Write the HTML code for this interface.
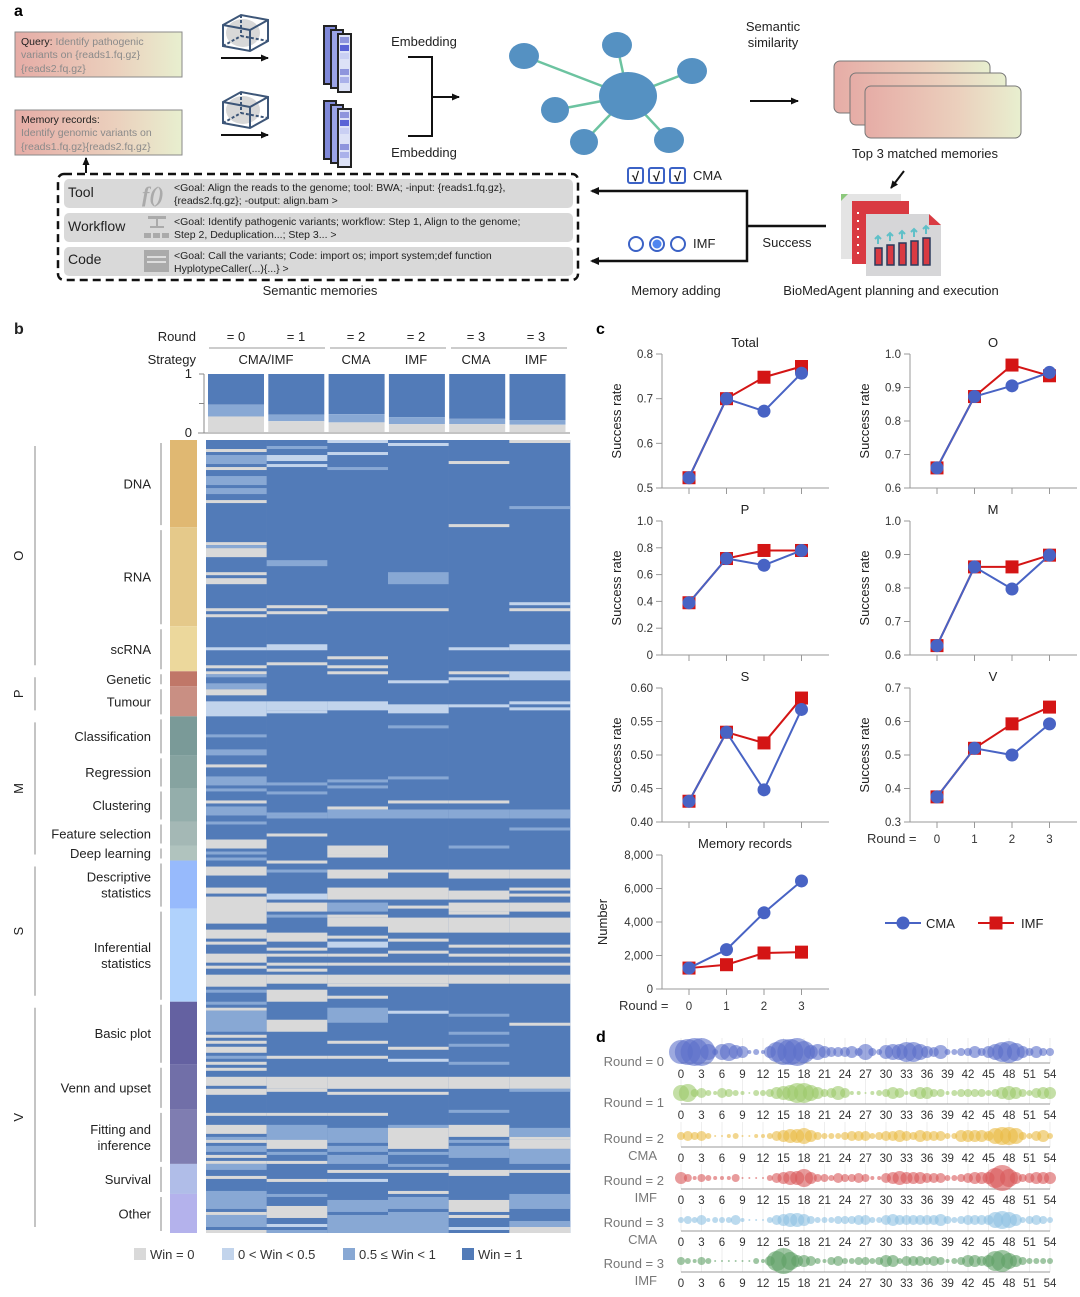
<!DOCTYPE html>
<html><head><meta charset="utf-8">
<style>
html,body{margin:0;padding:0;background:#fff;}
svg{display:block;font-family:"Liberation Sans",Arial,sans-serif;}
</style></head>
<body>
<svg id="fig" width="1080" height="1297" viewBox="0 0 1080 1297" xmlns="http://www.w3.org/2000/svg">
<defs>
<linearGradient id="pinkYellow" x1="0" y1="0" x2="1" y2="0"><stop offset="0" stop-color="#e6aca6"/><stop offset="0.6" stop-color="#ebd0bd"/><stop offset="1" stop-color="#e8efcf"/></linearGradient>
<marker id="ah" markerWidth="8" markerHeight="8" refX="7" refY="4" orient="auto" markerUnits="userSpaceOnUse"><path d="M0,0.5 L8,4 L0,7.5 z" fill="#111"/></marker>
</defs>

<!-- ================= PANEL A ================= -->
<g>
<text x="14" y="16" font-size="16" font-weight="bold">a</text>
<g>
<rect x="15" y="32" width="167" height="45" fill="url(#pinkYellow)" stroke="#8a8a8a" stroke-width="1"/>
<text x="21" y="45" font-size="10.5" fill="#333"><tspan fill="#222">Query: </tspan><tspan fill="#8a8a8a">Identify pathogenic</tspan></text>
<text x="21" y="58" font-size="10.5" fill="#8a8a8a">variants on {reads1.fq.gz}</text>
<text x="21" y="72" font-size="10.5" fill="#8a8a8a">{reads2.fq.gz}</text>
</g>
<g>
<rect x="15" y="110" width="167" height="45" fill="url(#pinkYellow)" stroke="#8a8a8a" stroke-width="1"/>
<text x="21" y="123" font-size="10.5" fill="#222">Memory records:</text>
<text x="21" y="136" font-size="10.5" fill="#8a8a8a">Identify genomic variants on</text>
<text x="21" y="150" font-size="10.5" fill="#8a8a8a">{reads1.fq.gz}{reads2.fq.gz}</text>
</g>
<line x1="86" y1="173" x2="86" y2="158" stroke="#111" stroke-width="2" marker-end="url(#ah)"/>
<!-- cubes -->
<g stroke="#3d5678" stroke-width="2" fill="none">
<ellipse cx="243" cy="33" rx="17" ry="14" fill="#d8d8d8" stroke="none"/>
<polygon points="223,25 241,15 268,20 268,41 250,51 223,46"/>
<line x1="223" y1="25" x2="250" y2="30"/><line x1="250" y1="30" x2="268" y2="20"/><line x1="250" y1="30" x2="250" y2="51"/>
<line x1="241" y1="15" x2="241" y2="36" stroke-dasharray="3 2"/><line x1="223" y1="46" x2="241" y2="36" stroke-dasharray="3 2"/><line x1="241" y1="36" x2="268" y2="41" stroke-dasharray="3 2"/>
</g>
<line x1="221" y1="58" x2="268" y2="58" stroke="#111" stroke-width="2" marker-end="url(#ah)"/>
<g stroke="#3d5678" stroke-width="2" fill="none">
<ellipse cx="243" cy="110" rx="17" ry="14" fill="#d8d8d8" stroke="none"/>
<polygon points="223,102 241,92 268,97 268,118 250,128 223,123"/>
<line x1="223" y1="102" x2="250" y2="107"/><line x1="250" y1="107" x2="268" y2="97"/><line x1="250" y1="107" x2="250" y2="128"/>
<line x1="241" y1="92" x2="241" y2="113" stroke-dasharray="3 2"/><line x1="223" y1="123" x2="241" y2="113" stroke-dasharray="3 2"/><line x1="241" y1="113" x2="268" y2="118" stroke-dasharray="3 2"/>
</g>
<line x1="221" y1="135" x2="268" y2="135" stroke="#111" stroke-width="2" marker-end="url(#ah)"/>
<!-- vector stacks -->
<g>
<rect x="324" y="26" width="12" height="58" fill="#7f88d8" stroke="#222" stroke-width="2"/>
<rect x="331" y="30" width="12" height="58" fill="#9aa3e6" stroke="#222" stroke-width="2"/>
<rect x="338" y="34" width="13" height="58" fill="#dde2f7" stroke="#222" stroke-width="2"/>
<rect x="340" y="37" width="9" height="6" fill="#8e95dd"/><rect x="340" y="45" width="9" height="6" fill="#5a63d6"/><rect x="340" y="53" width="9" height="6" fill="#c9cff3"/><rect x="340" y="69" width="9" height="6" fill="#8e95dd"/><rect x="340" y="77" width="9" height="6" fill="#aab1ea"/>
</g>
<g>
<rect x="324" y="101" width="12" height="58" fill="#7f88d8" stroke="#222" stroke-width="2"/>
<rect x="331" y="105" width="12" height="58" fill="#9aa3e6" stroke="#222" stroke-width="2"/>
<rect x="338" y="109" width="13" height="58" fill="#dde2f7" stroke="#222" stroke-width="2"/>
<rect x="340" y="112" width="9" height="6" fill="#8e95dd"/><rect x="340" y="120" width="9" height="6" fill="#5a63d6"/><rect x="340" y="128" width="9" height="6" fill="#c9cff3"/><rect x="340" y="144" width="9" height="6" fill="#8e95dd"/><rect x="340" y="152" width="9" height="6" fill="#aab1ea"/>
</g>
<text x="424" y="46" font-size="13" text-anchor="middle" fill="#222">Embedding</text>
<text x="424" y="157" font-size="13" text-anchor="middle" fill="#222">Embedding</text>
<polyline points="408,57 432,57 432,136 408,136" fill="none" stroke="#111" stroke-width="2"/>
<line x1="432" y1="97" x2="459" y2="97" stroke="#111" stroke-width="2" marker-end="url(#ah)"/>
<!-- network -->
<g>
<g stroke="#6cc3a0" stroke-width="2.5">
<line x1="628" y1="96" x2="524" y2="56"/><line x1="628" y1="96" x2="555" y2="110"/><line x1="628" y1="96" x2="584" y2="142"/>
<line x1="628" y1="96" x2="617" y2="45"/><line x1="628" y1="96" x2="692" y2="71"/><line x1="628" y1="96" x2="669" y2="140"/>
</g>
<g fill="#5591c2">
<ellipse cx="628" cy="96" rx="29" ry="24"/>
<ellipse cx="524" cy="56" rx="15" ry="13"/><ellipse cx="555" cy="110" rx="14" ry="13"/><ellipse cx="584" cy="142" rx="14" ry="13"/>
<ellipse cx="617" cy="45" rx="15" ry="13"/><ellipse cx="692" cy="71" rx="15" ry="13"/><ellipse cx="669" cy="140" rx="15" ry="13"/>
</g>
</g>
<text x="773" y="31" font-size="13" text-anchor="middle" fill="#222"><tspan x="773">Semantic</tspan><tspan x="773" dy="16">similarity</tspan></text>
<line x1="750" y1="101" x2="798" y2="101" stroke="#111" stroke-width="2" marker-end="url(#ah)"/>
<g stroke="#777" stroke-width="1">
<rect x="834" y="61" width="156" height="52" rx="6" fill="url(#pinkYellow)"/>
<rect x="850" y="73" width="156" height="52" rx="6" fill="url(#pinkYellow)"/>
<rect x="865" y="86" width="156" height="52" rx="6" fill="url(#pinkYellow)"/>
</g>
<text x="925" y="158" font-size="13" text-anchor="middle" fill="#222">Top 3 matched memories</text>
<line x1="904" y1="171" x2="891" y2="188" stroke="#111" stroke-width="2" marker-end="url(#ah)"/>
<g>
<rect x="841" y="194" width="60" height="65" fill="#e4e4e4"/>
<polygon points="841,194 848,194 841,201" fill="#8cc87c"/>
<rect x="852" y="201" width="57" height="63" fill="#d93a42"/>
<g fill="#fff"><rect x="857" y="212" width="2" height="2"/><rect x="857" y="220" width="2" height="2"/><rect x="857" y="228" width="2" height="2"/><rect x="857" y="236" width="2" height="2"/><rect x="857" y="244" width="2" height="2"/><rect x="857" y="252" width="2" height="2"/></g>
<polygon points="866,214 929,214 941,225 941,276 866,276" fill="#d6d6d8"/>
<polygon points="929,214 941,225 929,225" fill="#d93a42"/>
<g fill="#d93a42" stroke="#2c3a5c" stroke-width="1.5"><rect x="875" y="248" width="7" height="17"/><rect x="887" y="245" width="7" height="20"/><rect x="899" y="243" width="7" height="22"/><rect x="911" y="241" width="7" height="24"/><rect x="923" y="238" width="7" height="27"/></g>
<g stroke="#5fc0c8" stroke-width="2" fill="none"><path d="M878,244 v-8 m-3,3 l3,-3 l3,3"/><path d="M890,241 v-8 m-3,3 l3,-3 l3,3"/><path d="M902,239 v-8 m-3,3 l3,-3 l3,3"/><path d="M914,237 v-8 m-3,3 l3,-3 l3,3"/><path d="M926,234 v-8 m-3,3 l3,-3 l3,3"/></g>
</g>
<text x="787" y="247" font-size="13" text-anchor="middle" fill="#222">Success</text>
<g fill="none" stroke="#111" stroke-width="2.5">
<line x1="826" y1="226" x2="747" y2="226"/>
<polyline points="592,191 747,191 747,261 592,261"/>
</g>
<path d="M590,191 l9,-4 v8 z" fill="#111"/>
<path d="M590,261 l9,-4 v8 z" fill="#111"/>
<g stroke="#3b62c6" stroke-width="2" fill="#fff">
<rect x="628" y="168" width="15" height="15" rx="2"/><rect x="649" y="168" width="15" height="15" rx="2"/><rect x="670" y="168" width="15" height="15" rx="2"/>
</g>
<g font-size="13" font-weight="bold" fill="#111" text-anchor="middle"><text x="635.5" y="181">√</text><text x="656.5" y="181">√</text><text x="677.5" y="181">√</text></g>
<text x="693" y="180" font-size="13" fill="#222">CMA</text>
<g stroke="#3b62c6" stroke-width="2" fill="#fff">
<circle cx="636" cy="244" r="7"/><circle cx="657" cy="244" r="7"/><circle cx="678" cy="244" r="7"/>
</g>
<circle cx="657" cy="244" r="4.5" fill="#4f86f0"/>
<text x="693" y="248" font-size="13" fill="#222">IMF</text>
<text x="676" y="295" font-size="13" text-anchor="middle" fill="#222">Memory adding</text>
<text x="891" y="295" font-size="13" text-anchor="middle" fill="#222">BioMedAgent planning and execution</text>
<!-- semantic memories -->
<rect x="58" y="174" width="520" height="106" rx="6" fill="none" stroke="#111" stroke-width="2.5" stroke-dasharray="8 5"/>
<g>
<rect x="64" y="179" width="509" height="29" rx="5" fill="#d9d9d9"/>
<text x="68" y="197" font-size="14" fill="#222">Tool</text>
<text x="142" y="202" font-size="22" font-style="italic" font-weight="bold" fill="#aaa" font-family="Liberation Serif,serif">f()</text>
<text x="174" y="191" font-size="10.5" fill="#222">&lt;Goal: Align the reads to the genome; tool: BWA;  -input: {reads1.fq.gz},</text>
<text x="174" y="204" font-size="10.5" fill="#222">{reads2.fq.gz}; -output: align.bam &gt;</text>
</g>
<g>
<rect x="64" y="213" width="509" height="29" rx="5" fill="#d9d9d9"/>
<text x="68" y="231" font-size="14" fill="#222">Workflow</text>
<g fill="#aaa"><rect x="148" y="216" width="18" height="3"/><rect x="156" y="219" width="2" height="8"/><rect x="150" y="226" width="14" height="2"/><rect x="144" y="233" width="7" height="5"/><rect x="153" y="233" width="7" height="5"/><rect x="162" y="233" width="7" height="5"/></g>
<text x="174" y="225" font-size="10.5" fill="#222">&lt;Goal: Identify pathogenic variants; workflow: Step 1, Align to the genome;</text>
<text x="174" y="238" font-size="10.5" fill="#222">Step 2, Deduplication...; Step 3... &gt;</text>
</g>
<g>
<rect x="64" y="247" width="509" height="29" rx="5" fill="#d9d9d9"/>
<text x="68" y="264" font-size="14" fill="#222">Code</text>
<rect x="144" y="250" width="25" height="22" fill="#aaa"/><rect x="147" y="256" width="19" height="2" fill="#ddd"/><rect x="147" y="261" width="19" height="2" fill="#ddd"/>
<text x="174" y="259" font-size="10.5" fill="#222">&lt;Goal: Call the variants; Code: import os; import system;def function</text>
<text x="174" y="272" font-size="10.5" fill="#222">HyplotypeCaller(...){...} &gt;</text>
</g>
<text x="320" y="295" font-size="13" text-anchor="middle" fill="#222">Semantic memories</text>
</g>

<!-- ================= PANEL B static labels ================= -->
<g font-size="13" fill="#222">
<text x="14" y="334" font-size="16" font-weight="bold">b</text>
<text x="196" y="341" text-anchor="end">Round</text>
<text x="196" y="364" text-anchor="end">Strategy</text>
<g text-anchor="middle">
<text x="236" y="341">= 0</text><text x="296" y="341">= 1</text><text x="356" y="341">= 2</text><text x="416" y="341">= 2</text><text x="476" y="341">= 3</text><text x="536" y="341">= 3</text>
<text x="266" y="364">CMA/IMF</text><text x="356" y="364">CMA</text><text x="416" y="364">IMF</text><text x="476" y="364">CMA</text><text x="536" y="364">IMF</text>
</g>
<g stroke="#999" stroke-width="1"><line x1="209" y1="348" x2="325" y2="348"/><line x1="330" y1="348" x2="446" y2="348"/><line x1="451" y1="348" x2="567" y2="348"/></g>
<g id="bars"></g>
<g id="heat"></g>
<g id="cats"></g>
<g id="blegend"></g>
</g>

<!-- ================= PANEL C ================= -->
<text x="596" y="334" font-size="16" font-weight="bold">c</text>
<g id="linecharts"></g>
<g>
<line x1="885" y1="923" x2="921" y2="923" stroke="#4863c4" stroke-width="2"/><circle cx="903" cy="923" r="6.5" fill="#4863c4"/>
<text x="926" y="928" font-size="13" fill="#222">CMA</text>
<line x1="978" y1="923" x2="1014" y2="923" stroke="#d41515" stroke-width="2"/><rect x="989.5" y="916.5" width="13" height="13" fill="#d41515"/>
<text x="1021" y="928" font-size="13" fill="#222">IMF</text>
</g>

<!-- ================= PANEL D ================= -->
<text x="596" y="1042" font-size="16" font-weight="bold">d</text>
<g id="bubbles"></g>
</svg>

<script>
// ---------- Panel b data ----------
const strategies = ["R0 CMA/IMF","R1 CMA/IMF","R2 CMA","R2 IMF","R3 CMA","R3 IMF"];
const fracWin0 = [0.28,0.20,0.18,0.15,0.15,0.14];
const fracWinMid = [0.20,0.11,0.14,0.12,0.09,0.08];
const categories = ["DNA","RNA","scRNA","Genetic","Tumour","Classification","Regression","Clustering","Feature selection","Deep learning","Descriptive statistics","Inferential statistics","Basic plot","Venn and upset","Fitting and inference","Survival","Other"];
const categoryRows = [29,33,15,5,10,13,11,11,8,5,16,31,21,15,18,10,13];
const nRows = 264;
// exceptions per column: [startRow, endRow, level] (0: win=0, 1: 0<win<0.5, 2: 0.5<=win<1); default level 3 (win=1)
const heatCol0 = [[3,3,0],[5,7,2],[9,9,0],[12,14,2],[16,17,2],[20,20,0],[34,34,0],[35,35,2],[36,38,0],[44,44,0],[46,47,0],[56,56,0],[58,58,0],[69,69,1],[75,75,0],[77,77,0],[78,78,2],[81,82,2],[83,84,0],[87,91,1],[98,98,2],[103,104,2],[108,108,0],[112,114,2],[116,116,2],[120,120,0],[122,124,2],[127,127,2],[133,135,0],[137,137,2],[139,139,2],[142,144,0],[149,150,0],[152,160,0],[163,165,0],[167,167,0],[171,173,0],[175,175,0],[178,181,0],[183,183,2],[187,187,2],[189,189,0],[190,196,2],[198,198,0],[200,200,0],[202,203,0],[205,205,2],[207,207,0],[209,209,0],[212,214,0],[216,217,0],[224,224,0],[228,230,0],[232,232,2],[233,233,0],[235,236,2],[238,238,0],[240,240,0],[241,242,2],[245,245,0],[250,255,2],[257,257,0],[258,261,2],[263,263,0]];
const heatCol1 = [[2,2,2],[5,6,1],[8,8,1],[40,41,2],[55,55,0],[57,57,0],[68,69,1],[74,74,0],[87,89,1],[90,90,1],[114,114,2],[117,117,2],[124,124,2],[125,125,2],[131,131,0],[140,140,0],[143,143,2],[151,152,1],[154,156,0],[158,158,2],[164,166,0],[169,169,0],[171,171,0],[174,174,0],[176,176,0],[178,180,0],[183,186,0],[193,196,0],[205,205,0],[212,215,0],[216,216,0],[224,224,0],[228,233,2],[233,235,0],[237,237,2],[240,240,0],[246,246,0],[251,251,2],[255,258,0],[261,261,1],[263,263,2]];
const heatCol2 = [[0,0,1],[4,4,1],[9,9,2],[56,56,0],[72,72,0],[75,75,0],[77,77,0],[87,89,1],[113,113,2],[115,115,2],[122,122,0],[123,125,2],[135,137,0],[138,138,0],[143,145,0],[149,152,0],[154,156,2],[158,158,0],[159,161,0],[165,165,0],[167,168,1],[171,171,0],[174,174,0],[178,180,0],[181,181,0],[185,185,0],[189,193,2],[200,200,0],[205,205,0],[212,215,0],[217,217,0],[224,224,0],[229,233,2],[235,236,2],[238,240,2],[243,243,0],[246,246,1],[253,256,2],[258,263,2]];
const heatCol3 = [[1,1,1],[44,47,2],[56,56,0],[80,80,1],[88,90,1],[95,95,2],[112,112,2],[120,120,0],[123,125,2],[143,143,0],[149,152,0],[155,155,0],[159,163,0],[166,166,0],[170,170,0],[174,174,0],[178,180,0],[181,181,0],[190,190,1],[202,202,0],[206,206,1],[212,215,0],[217,217,0],[228,228,2],[229,235,0],[237,237,2],[241,241,2],[243,243,0],[250,250,0],[252,255,2],[257,263,2]];
const heatCol4 = [[7,7,0],[28,28,0],[69,69,1],[77,77,0],[79,79,1],[88,88,1],[120,120,0],[123,125,2],[135,135,2],[143,145,0],[150,152,0],[154,156,0],[157,157,0],[159,163,0],[168,168,0],[171,171,0],[174,174,0],[178,180,0],[191,191,2],[197,197,2],[201,201,2],[207,207,2],[212,215,0],[223,223,2],[228,231,0],[233,233,2],[235,238,2],[243,244,0],[253,256,0],[258,258,0],[262,262,1]];
const heatCol5 = [[0,0,0],[22,22,2],[54,54,1],[56,56,0],[68,69,1],[77,79,1],[87,87,1],[89,89,1],[123,125,2],[129,129,2],[143,145,0],[149,149,0],[151,151,0],[154,156,0],[159,163,0],[168,168,0],[171,171,0],[174,174,0],[178,180,0],[194,194,0],[212,215,0],[216,216,2],[229,231,2],[232,232,0],[233,235,0],[236,240,2],[243,243,0],[251,255,2],[260,261,2],[262,263,0]];
const heatColumns = [heatCol0,heatCol1,heatCol2,heatCol3,heatCol4,heatCol5];

// ---------- Panel c data ----------
const rounds = [0,1,2,3];
const totalCMA = [0.523,0.700,0.672,0.757];
const totalIMF = [0.523,0.700,0.748,0.772];
const oCMA = [0.660,0.873,0.905,0.945];
const oIMF = [0.660,0.873,0.967,0.935];
const pCMA = [0.39,0.72,0.67,0.78];
const pIMF = [0.39,0.72,0.78,0.78];
const mCMA = [0.628,0.863,0.797,0.898];
const mIMF = [0.628,0.863,0.863,0.898];
const sCMA = [0.431,0.534,0.448,0.568];
const sIMF = [0.431,0.534,0.518,0.585];
const vCMA = [0.375,0.520,0.500,0.593];
const vIMF = [0.375,0.520,0.593,0.643];
const memCMA = [1250,2350,4550,6450];
const memIMF = [1250,1450,2150,2200];
const ticksTotal = [0.5,0.6,0.7,0.8]; const labelsTotal = ["0.5","0.6","0.7","0.8"];
const ticksO = [0.6,0.7,0.8,0.9,1.0]; const labelsO = ["0.6","0.7","0.8","0.9","1.0"];
const ticksP = [0,0.2,0.4,0.6,0.8,1.0]; const labelsP = ["0","0.2","0.4","0.6","0.8","1.0"];
const ticksM = [0.6,0.7,0.8,0.9,1.0]; const labelsM = ["0.6","0.7","0.8","0.9","1.0"];
const ticksS = [0.40,0.45,0.50,0.55,0.60]; const labelsS = ["0.40","0.45","0.50","0.55","0.60"];
const ticksV = [0.3,0.4,0.5,0.6,0.7]; const labelsV = ["0.3","0.4","0.5","0.6","0.7"];
const ticksMem = [0,2000,4000,6000,8000]; const labelsMem = ["0","2,000","4,000","6,000","8,000"];

// ---------- Panel d data ----------
const positions = [0,1,2,3,4,5,6,7,8,9,10,11,12,13,14,15,16,17,18,19,20,21,22,23,24,25,26,27,28,29,30,31,32,33,34,35,36,37,38,39,40,41,42,43,44,45,46,47,48,49,50,51,52,53,54];
const tickPositions = [0,3,6,9,12,15,18,21,24,27,30,33,36,39,42,45,48,51,54];
const sizeRound0 = [12,13,14,14,8,3,8,9,7,6,2,3,2,6,10,13,13,14,11,7,8,6,5,5,5,6,4,8,4,3,7,8,8,10,10,8,6,5,7,3,3,4,4,6,4,6,8,10,11,9,6,4,6,4,4];
const sizeRound1 = [8,9,4,5,3,2,5,4,3,2,1,3,3,4,6,7,8,10,10,8,6,4,5,7,5,2,2,1,2,3,4,6,5,2,4,6,6,4,4,2,3,4,4,4,4,3,4,6,7,6,4,3,5,6,6];
const sizeRound2CMA = [4,5,4,5,3,1,1,2,3,1,1,2,2,3,5,6,7,7,8,6,4,3,3,3,4,5,5,5,3,4,5,5,6,5,4,6,5,5,5,3,3,6,6,6,6,5,8,9,9,8,4,3,5,6,3];
const sizeRound2IMF = [6,4,2,4,3,2,2,2,4,1,1,1,1,3,5,6,7,7,9,6,4,4,3,5,4,4,5,4,2,2,5,6,7,6,6,6,5,5,5,3,3,4,5,6,6,6,10,13,9,6,4,5,6,6,6];
const sizeRound3CMA = [3,4,3,5,2,3,3,3,5,2,1,1,1,3,5,6,7,7,6,4,3,3,3,4,4,4,5,5,3,3,5,6,5,5,5,5,5,5,6,4,3,4,5,5,5,5,8,9,8,6,3,4,5,4,3];
const sizeRound3IMF = [4,3,2,4,3,1,1,1,1,1,1,3,2,5,10,13,9,6,6,5,3,2,4,5,3,3,4,4,3,4,6,6,3,5,5,5,4,5,4,2,3,4,6,6,5,6,10,11,8,6,4,3,3,3,3];
const bubbleRows = [sizeRound0,sizeRound1,sizeRound2CMA,sizeRound2IMF,sizeRound3CMA,sizeRound3IMF];
const bubbleLabels = [["Round = 0"],["Round = 1"],["Round = 2","CMA"],["Round = 2","IMF"],["Round = 3","CMA"],["Round = 3","IMF"]];

// ---------- helpers ----------
const NS = "http://www.w3.org/2000/svg";
function mk(tag, attrs, parent){ const e=document.createElementNS(NS,tag); for(const k in attrs) e.setAttribute(k,attrs[k]); parent.appendChild(e); return e; }
function txt(str, attrs, parent){ const e=mk("text",attrs,parent); e.textContent=str; return e; }

// ---------- Panel b ----------
const colors = ["#d9d9d9","#c2d4ec","#88a8d4","#527bb8"];
const bars = document.getElementById("bars");
const barTop = 374, barBot = 433;
const byScale = v => barBot - v*(barBot-barTop);
let el;
el = mk("line",{x1:204,y1:barTop,x2:204,y2:barBot,stroke:"#888"},bars);


mk("line",{x1:199,y1:barTop,x2:204,y2:barTop,stroke:"#888"},bars);
mk("line",{x1:199,y1:byScale(0.5),x2:204,y2:byScale(0.5),stroke:"#888"},bars);
el = mk("line",{x1:198,y1:barBot,x2:570,y2:barBot,stroke:"#888"},bars);


txt("1",{x:192,y:378,"font-size":13,"text-anchor":"end"},bars);
txt("0",{x:192,y:437,"font-size":13,"text-anchor":"end"},bars);
strategies.forEach((s,i)=>{
  const x = 208 + i*60.3, w = 56;
  const g = fracWin0[i], m = fracWinMid[i];
  el = mk("rect",{x:x,y:byScale(1),width:w,height:byScale(g+m)-byScale(1),fill:colors[3]},bars);
  
  
  el = mk("rect",{x:x,y:byScale(g+m),width:w,height:byScale(g)-byScale(g+m),fill:colors[2]},bars);
  
  
  el = mk("rect",{x:x,y:byScale(g),width:w,height:byScale(0)-byScale(g)-1,fill:colors[0]},bars);
  
  
});

const heat = document.getElementById("heat");
const hTop = 440, hBot = 1233, hLeft = 206, hRight = 570;
const rowH = (hBot-hTop)/nRows, colW = (hRight-hLeft)/heatColumns.length;
heatColumns.forEach((col,ci)=>{
  const x = hLeft + ci*colW;
  el = mk("rect",{x:x,y:hTop,width:colW+0.3,height:hBot-hTop,fill:colors[3]},heat);
  
  
  col.forEach(([a,b,lv])=>{
    el = mk("rect",{x:x,y:hTop+a*rowH,width:colW+0.3,height:(b-a+1)*rowH,fill:colors[lv]},heat);
    
    
  });
});

const cats = document.getElementById("cats");
const catColors = ["#e0b872","#e5c98a","#ecd89c","#c07768","#c98f83","#7a9a98","#86a3a0","#94aeab","#a4b8b5","#b0c3be","#97bafc","#b0d2fc","#6461a1","#716fa8","#7f7db1","#b0bde8","#b4b2ec"];
const catLabelLines = [["DNA"],["RNA"],["scRNA"],["Genetic"],["Tumour"],["Classification"],["Regression"],["Clustering"],["Feature selection"],["Deep learning"],["Descriptive","statistics"],["Inferential","statistics"],["Basic plot"],["Venn and upset"],["Fitting and","inference"],["Survival"],["Other"]];
let r0 = 0;
categories.forEach((c,i)=>{
  const y0 = hTop + r0*rowH, y1 = hTop + (r0+categoryRows[i])*rowH;
  el = mk("rect",{x:170,y:y0,width:27,height:y1-y0,fill:catColors[i]},cats);
  
  
  mk("line",{x1:161,y1:y0+3,x2:161,y2:y1-2,stroke:"#888"},cats);
  const lines = catLabelLines[i];
  const cy = (y0+y1)/2 + 5 - (lines.length-1)*8;
  lines.forEach((l,k)=>{
    el = txt(l,{x:151,y:cy+k*16,"font-size":13,"text-anchor":"end",fill:"#222"},cats);
    
    
  });
  r0 += categoryRows[i];
});
const groups = ["O","P","M","S","V"];
const groupCounts = [3,2,5,2,5];
let gi = 0; r0 = 0;
groups.forEach((g,i)=>{
  let n = 0; for(let k=0;k<groupCounts[i];k++) n += categoryRows[gi+k];
  gi += groupCounts[i];
  const y0 = hTop + r0*rowH, y1 = hTop + (r0+n)*rowH;
  mk("line",{x1:35,y1:y0+6,x2:35,y2:y1-6,stroke:"#888"},cats);
  const cy = (y0+y1)/2;
  el = txt(g,{x:0,y:0,"font-size":13,"text-anchor":"middle",fill:"#222",transform:`translate(23,${cy}) rotate(-90)`},cats);
  
  
  r0 += n;
});

const bl = document.getElementById("blegend");
const legendTexts = ["Win = 0","0 < Win < 0.5","0.5 ≤ Win < 1","Win = 1"];
const legendX = [134,222,343,462];
legendTexts.forEach((t,i)=>{
  el = mk("rect",{x:legendX[i],y:1248,width:12,height:12,fill:colors[i]},bl);
  
  
  el = txt(t,{x:legendX[i]+16,y:1259,"font-size":13,fill:"#333"},bl);
  
  
});

// ---------- Panel c ----------
const lc = document.getElementById("linecharts");
const panels = [
 {name:"total",title:"Total",cma:totalCMA,imf:totalIMF,ticks:ticksTotal,labels:labelsTotal,left:662,top:354,bot:488,ylab:"Success rate",roundAxis:false},
 {name:"o",title:"O",cma:oCMA,imf:oIMF,ticks:ticksO,labels:labelsO,left:910,top:354,bot:488,ylab:"Success rate",roundAxis:false},
 {name:"p",title:"P",cma:pCMA,imf:pIMF,ticks:ticksP,labels:labelsP,left:662,top:521,bot:655,ylab:"Success rate",roundAxis:false},
 {name:"m",title:"M",cma:mCMA,imf:mIMF,ticks:ticksM,labels:labelsM,left:910,top:521,bot:655,ylab:"Success rate",roundAxis:false},
 {name:"s",title:"S",cma:sCMA,imf:sIMF,ticks:ticksS,labels:labelsS,left:662,top:688,bot:822,ylab:"Success rate",roundAxis:false},
 {name:"v",title:"V",cma:vCMA,imf:vIMF,ticks:ticksV,labels:labelsV,left:910,top:688,bot:822,ylab:"Success rate",roundAxis:true},
 {name:"memory",title:"Memory records",cma:memCMA,imf:memIMF,ticks:ticksMem,labels:labelsMem,left:662,top:855,bot:989,ylab:"Number",roundAxis:true}
];
panels.forEach(p=>{
  const g = mk("g",{},lc);
  
  
  const lo = p.ticks[0], hi = p.ticks[p.ticks.length-1];
  const ys = v => p.bot - (v-lo)/(hi-lo)*(p.bot-p.top);
  const xs = r => p.left + 27 + r*37.5;
  mk("line",{x1:p.left,y1:p.top,x2:p.left,y2:p.bot,stroke:"#999"},g);
  mk("line",{x1:p.left,y1:p.bot,x2:p.left+167,y2:p.bot,stroke:"#999"},g);
  p.ticks.forEach((t,i)=>{
    mk("line",{x1:p.left-6,y1:ys(t),x2:p.left,y2:ys(t),stroke:"#999"},g);
    el = txt(p.labels[i],{x:p.left-9,y:ys(t)+4,"font-size":11.5,"text-anchor":"end",fill:"#333"},g);
    
    
  });
  rounds.forEach(r=>{
    mk("line",{x1:xs(r),y1:p.bot,x2:xs(r),y2:p.bot+6,stroke:"#999"},g);
    if(p.roundAxis){
      el = txt(String(r),{x:xs(r),y:p.bot+21,"font-size":11.5,"text-anchor":"middle",fill:"#333"},g);
      
      
    }
  });
  if(p.roundAxis){
    el = txt("Round =",{x:p.left-43,y:p.bot+21,"font-size":13,fill:"#333"},g);
    
    
  }
  el = txt(p.title,{x:p.left+83,y:p.top-7,"font-size":13,"text-anchor":"middle",fill:"#222"},g);
  
  
  const ylx = p.ylab==="Number" ? 607 : p.left-41;
  el = txt(p.ylab,{x:0,y:0,"font-size":13,"text-anchor":"middle",fill:"#222",transform:`translate(${ylx},${(p.top+p.bot)/2}) rotate(-90)`},g);
  
  
  el = mk("polyline",{points:p.imf.map((v,i)=>xs(rounds[i])+","+ys(v)).join(" "),fill:"none",stroke:"#d41515","stroke-width":2},g);
  
  
  p.imf.forEach((v,i)=>{
    el = mk("rect",{x:xs(rounds[i])-6.5,y:ys(v)-6.5,width:13,height:13,fill:"#d41515"},g);
    
    
  });
  el = mk("polyline",{points:p.cma.map((v,i)=>xs(rounds[i])+","+ys(v)).join(" "),fill:"none",stroke:"#4863c4","stroke-width":2},g);
  
  
  p.cma.forEach((v,i)=>{
    el = mk("circle",{cx:xs(rounds[i]),cy:ys(v),r:6.5,fill:"#4863c4"},g);
    
    
  });
});

// ---------- Panel d ----------
const bb = document.getElementById("bubbles");
const bubbleColors = ["#5b6fca","#9cc96b","#eabb45","#d9585a","#8dc1e3","#5fa065"];
const rowCenters = [1052,1093,1136,1178,1220,1261];
const dx = v => 681 + v*(369/54);
bubbleRows.forEach((row,ri)=>{
  const g = mk("g",{},bb);
  
  
  const cy = rowCenters[ri];
  const axY = cy + 11;
  tickPositions.forEach(t=>{
    mk("line",{x1:dx(t),y1:cy-14,x2:dx(t),y2:axY,stroke:"#eee","stroke-width":1},g);
  });
  mk("line",{x1:dx(0),y1:axY,x2:dx(54),y2:axY,stroke:"#999"},g);
  row.forEach((s,i)=>{
    el = mk("circle",{cx:dx(positions[i]),cy:cy,r:s,fill:bubbleColors[ri],"fill-opacity":0.6},g);
    
    
  });
  tickPositions.forEach(t=>{
    el = txt(String(t),{x:dx(t),y:axY+15,"font-size":11.5,"text-anchor":"middle",fill:"#333"},g);
    
    
  });
  const lab = bubbleLabels[ri];
  lab.forEach((l,k)=>{
    const y = lab.length===1 ? cy+14 : cy+7+k*17;
    el = txt(l,{x:l.startsWith("Round")?664:657,y:y,"font-size":13,"text-anchor":"end",fill:"#777"},g);
    
    
  });
});
</script>
</body></html>
